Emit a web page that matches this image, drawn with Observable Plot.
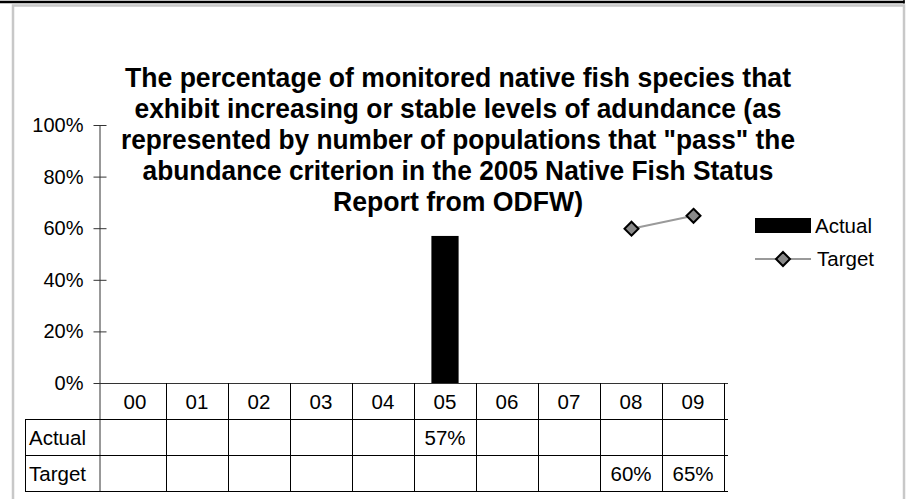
<!DOCTYPE html>
<html>
<head>
<meta charset="utf-8">
<script src="https://cdn.jsdelivr.net/npm/d3@7"></script>
<script src="https://cdn.jsdelivr.net/npm/@observablehq/plot@0.6"></script>
<style>
  html, body { margin: 0; padding: 0; background: white; }
  #chart { position: relative; width: 906px; height: 499px; overflow: hidden; }
  svg { display: block; }
</style>
</head>
<body>
<div id="chart"></div>
<script>
const years = ["00", "01", "02", "03", "04", "05", "06", "07", "08", "09"];
const actual = [null, null, null, null, null, 0.57, null, null, null, null];
const target = [null, null, null, null, null, null, null, null, 0.60, 0.65];
const yTicks = [0, 0.2, 0.4, 0.6, 0.8, 1.0];
const seriesNames = ["Actual", "Target"];
const titleLines = [
  "The percentage of monitored native fish species that",
  "exhibit increasing or stable levels of adundance (as",
  "represented by number of populations that \"pass\" the",
  "abundance criterion in the 2005 Native Fish Status",
  "Report from ODFW)"
];
const titleWidths = [666, 647, 674, 631, 250];

const data = years.map((year, i) => ({year, actual: actual[i], target: target[i]}));
const pct = d3.format(".0%");
const FONT = "'Liberation Sans', Arial, Helvetica, sans-serif";
const R = 6.3;

const plot = Plot.plot({
  width: 906,
  height: 499,
  marginLeft: 100,
  marginRight: 178,
  marginTop: 125,
  marginBottom: 116,
  x: {domain: years, padding: 0, axis: null},
  y: {domain: [0, 1], axis: null},
  style: {fontFamily: FONT, fontSize: "20px", background: "white", color: "black", overflow: "visible"},
  marks: [
    Plot.barY(data.filter(d => d.actual != null), {x: "year", y: "actual", fill: "black", insetLeft: 17.4, insetRight: 17.4}),
    Plot.line(data.filter(d => d.target != null), {x: "year", y: "target", stroke: "#9a9a9a", strokeWidth: 2}),
    Plot.dot(data.filter(d => d.target != null), {x: "year", y: "target", symbol: "diamond2", r: R, fill: "#8a8a8a", stroke: "black", strokeWidth: 2}),
    Plot.ruleY([0], {stroke: "#333"}),
    Plot.axisY(yTicks, {tickSize: 13, dx: 6.5, tickFormat: () => "", stroke: "#333", label: null}),
    Plot.axisY(yTicks, {tickSize: 0, tickPadding: 17, tickFormat: pct, fill: "black", fontSize: 20, label: null})
  ]
});
document.getElementById("chart").appendChild(plot);

const svg = d3.select(plot);
const x = plot.scale("x");
const y = plot.scale("y");
const bw = x.bandwidth;
const left = x.range[0], right = x.range[1];
const labelLeft = 25;
const rowTop = [383, 419, 455];
const rowH = 36;
const tableBottom = rowTop[2] + rowH;

// outer frame
svg.append("rect").attr("x", 13).attr("y", 5.5).attr("width", 891).attr("height", 500)
  .attr("fill", "none").attr("stroke", "#c8c8c8").attr("stroke-width", 2.5);
svg.append("line").attr("x1", 0).attr("x2", 904.5).attr("y1", 2).attr("y2", 2)
  .attr("stroke", "black").attr("stroke-width", 2.5);
svg.append("line").attr("x1", 904).attr("x2", 904).attr("y1", 0).attr("y2", 3.5)
  .attr("stroke", "black").attr("stroke-width", 1.5);

// y axis line (continues as the table's left edge)
svg.append("line").attr("x1", left).attr("x2", left).attr("y1", y.apply(1)).attr("y2", tableBottom)
  .attr("stroke", "#333").attr("stroke-width", 1);

// table
const g = svg.append("g").attr("stroke", "black").attr("stroke-width", 1).attr("shape-rendering", "crispEdges");
years.forEach(yr => {
  const x0 = x.apply(yr);
  g.append("line").attr("x1", x0 + bw).attr("x2", x0 + bw).attr("y1", rowTop[0]).attr("y2", tableBottom);
});
g.append("line").attr("x1", labelLeft).attr("x2", labelLeft).attr("y1", rowTop[1]).attr("y2", tableBottom);
[rowTop[1], rowTop[2], tableBottom].forEach(yy => {
  g.append("line").attr("x1", labelLeft).attr("x2", right).attr("y1", yy).attr("y2", yy);
});

const t = svg.append("g").attr("font-family", FONT).attr("font-size", 20.5).attr("fill", "black");
years.forEach((yr, i) => {
  const cx = x.apply(yr) + bw / 2;
  t.append("text").attr("x", cx).attr("y", rowTop[0] + 26).attr("text-anchor", "middle").text(yr);
  if (actual[i] != null) t.append("text").attr("x", cx).attr("y", rowTop[1] + 26).attr("text-anchor", "middle").text(pct(actual[i]));
  if (target[i] != null) t.append("text").attr("x", cx).attr("y", rowTop[2] + 26).attr("text-anchor", "middle").text(pct(target[i]));
});
seriesNames.forEach((name, i) => {
  t.append("text").attr("x", labelLeft + 4).attr("y", rowTop[i + 1] + 26).attr("text-anchor", "start").text(name);
});

// legend
const lg = svg.append("g").attr("font-family", FONT).attr("font-size", 20.5).attr("text-anchor", "start");
lg.append("rect").attr("x", 755).attr("y", 218).attr("width", 56).attr("height", 15).attr("fill", "black");
lg.append("text").attr("x", 815).attr("y", 233).text(seriesNames[0]);
lg.append("line").attr("x1", 755).attr("x2", 811).attr("y1", 259).attr("y2", 259).attr("stroke", "#9a9a9a").attr("stroke-width", 2);
lg.append("path").attr("d", d3.symbol(d3.symbolDiamond2, Math.PI * R * R)()).attr("transform", "translate(783,259)")
  .attr("fill", "#8a8a8a").attr("stroke", "black").attr("stroke-width", 2);
lg.append("text").attr("x", 817).attr("y", 266).text(seriesNames[1]);

// title
const tg = svg.append("g").attr("font-family", FONT).attr("font-weight", "bold").attr("font-size", 28).attr("text-anchor", "middle");
titleLines.forEach((line, i) => {
  tg.append("text").attr("x", 458).attr("y", 87 + i * 31)
    .attr("textLength", titleWidths[i]).attr("lengthAdjust", "spacingAndGlyphs").text(line);
});
</script>
</body>
</html>
